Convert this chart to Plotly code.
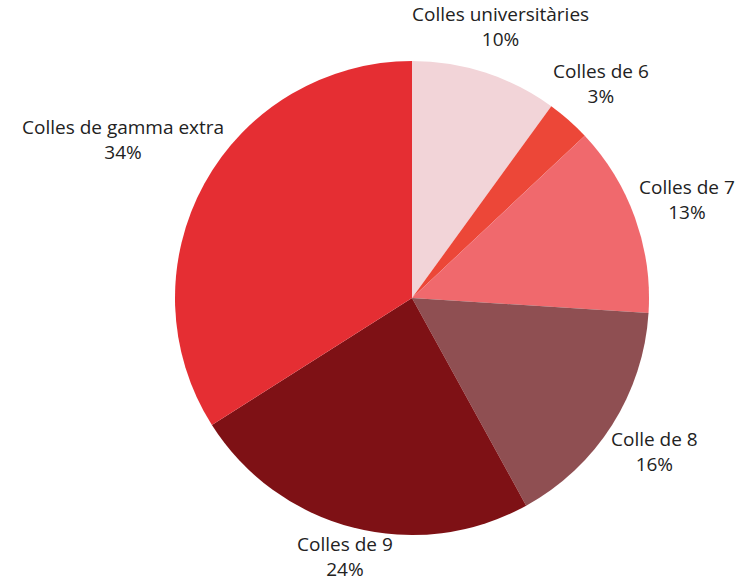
import math
import plotly.graph_objects as go

labels = ["Colles universitàries", "Colles de 6", "Colles de 7", "Colle de 8", "Colles de 9", "Colles de gamma extra"]
values = [10, 3, 13, 16, 24, 34]
colors = ["#F2D4D8", "#EC4738", "#F0696D", "#8F4F52", "#7E1115", "#E52E33"]

# layout (pixels)
W, H = 743, 581
CX, CY, R = 412, 298, 237
FONT = 19
GAP = 4
BOX_HALF = 1.3 * FONT  # half height of a two-line label box

dom_x = [(CX - R) / W, (CX + R) / W]
dom_y = [1 - (CY + R) / H, 1 - (CY - R) / H]

fig = go.Figure(go.Pie(
    labels=labels,
    values=values,
    sort=False,
    direction="clockwise",
    rotation=0,
    marker=dict(colors=colors, line=dict(width=0)),
    textinfo="none",
    showlegend=False,
    hoverinfo="label+percent",
    domain=dict(x=dom_x, y=dom_y),
))

# outside labels placed along each slice's mid-angle ray, just clear of the rim
total = sum(values)
cum = 0
for lab, v in zip(labels, values):
    theta = 2 * math.pi * (cum + v / 2) / total
    cum += v
    s, c = math.sin(theta), math.cos(theta)
    pct = round(100 * v / total)
    w = len(lab) * 0.46 * FONT
    h = 1.8 * FONT
    d = R + GAP + abs(s) * w / 2 + abs(c) * h / 2
    px = CX + d * s
    py = CY - d * c
    py = min(max(py, BOX_HALF), H - BOX_HALF)  # keep label box inside the figure
    fig.add_annotation(
        x=px / W, y=1 - py / H, xref="paper", yref="paper",
        xanchor="center", yanchor="middle",
        text=f"{lab}<br>{pct}%", showarrow=False, align="center",
        font=dict(family="Open Sans", size=FONT, color="#222222"),
    )

fig.update_layout(
    width=W, height=H,
    margin=dict(l=0, r=0, t=0, b=0),
    paper_bgcolor="white",
    plot_bgcolor="white",
)

fig.write_html(
    "out.html",
    config={"displayModeBar": False},
    post_script="document.body.style.margin='0';document.body.style.overflow='hidden';",
)
